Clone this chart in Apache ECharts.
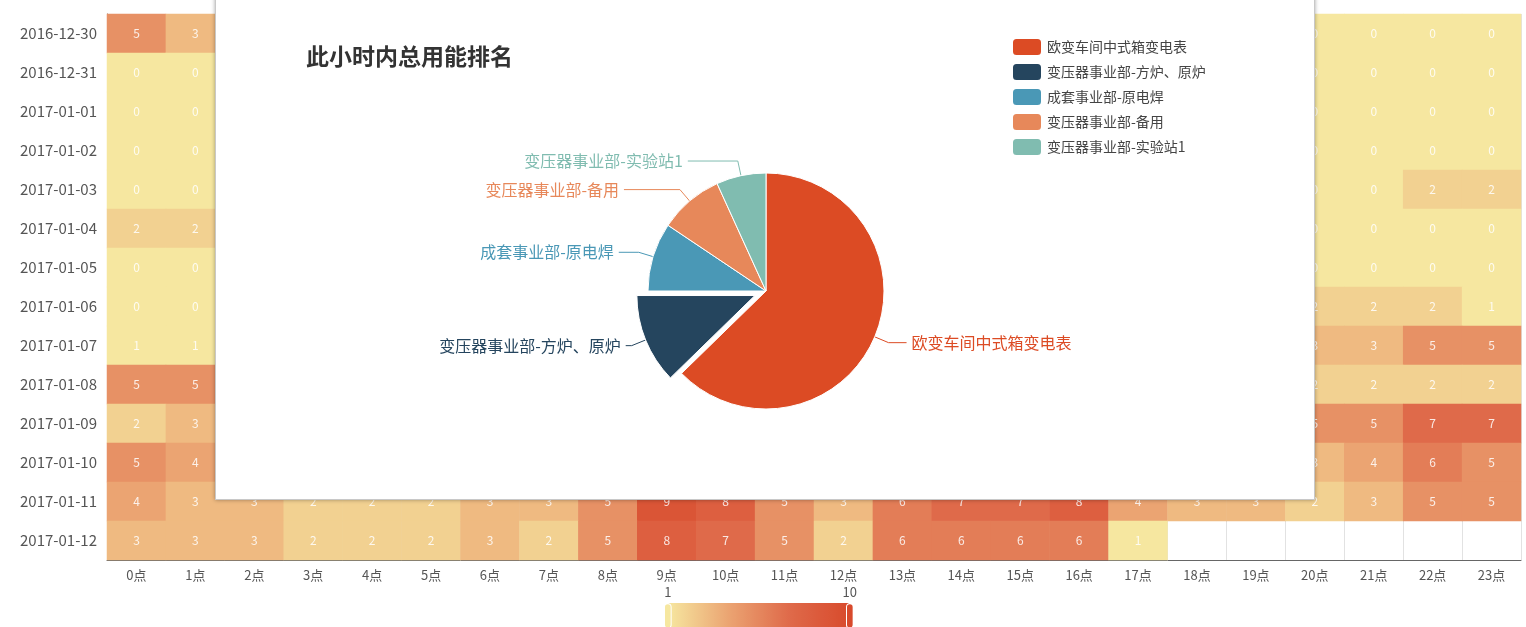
<!DOCTYPE html>
<html>
<head>
<meta charset="utf-8">
<title>用能热力图</title>
<script src="https://cdn.jsdelivr.net/npm/echarts@6/dist/echarts.min.js"></script>
<style>
	html, body { margin: 0; padding: 0; background: #fff; overflow: hidden; }
	#heat { position: absolute; left: 0; top: 0; width: 1526px; height: 627px; }
	#popup {
		position: absolute; left: 215px; top: -20px; width: 1098px; height: 518px;
		background: #fff; border: 1px solid #c8c8c8;
		box-shadow: 0 0 4px rgba(0, 0, 0, 0.35);
	}
	#pie { width: 100%; height: 100%; }
</style>
</head>
<body>
<div id="heat"></div>
<div id="popup"><div id="pie"></div></div>
<script>
var hours = ['0点', '1点', '2点', '3点', '4点', '5点', '6点', '7点', '8点', '9点', '10点', '11点',
	'12点', '13点', '14点', '15点', '16点', '17点', '18点', '19点', '20点', '21点', '22点', '23点'];

var dates = ['2016-12-30', '2016-12-31', '2017-01-01', '2017-01-02', '2017-01-03', '2017-01-04', '2017-01-05',
	'2017-01-06', '2017-01-07', '2017-01-08', '2017-01-09', '2017-01-10', '2017-01-11', '2017-01-12'];

// one row per date, one value per hour ('-' = no data yet)
var row_1230 = [5, 3, 3, 3, 3, 3, 3, 3, 4, 5, 5, 5, 4, 4, 4, 4, 3, 2, 1, 0, 0, 0, 0, 0];
var row_1231 = [0, 0, 0, 0, 0, 0, 0, 0, 0, 0, 0, 0, 0, 0, 0, 0, 0, 0, 0, 0, 0, 0, 0, 0];
var row_0101 = [0, 0, 0, 0, 0, 0, 0, 0, 0, 0, 0, 0, 0, 0, 0, 0, 0, 0, 0, 0, 0, 0, 0, 0];
var row_0102 = [0, 0, 0, 0, 0, 0, 0, 0, 0, 0, 0, 0, 0, 0, 0, 0, 0, 0, 0, 0, 0, 0, 0, 0];
var row_0103 = [0, 0, 0, 0, 0, 0, 0, 0, 0, 0, 0, 0, 0, 0, 0, 0, 0, 0, 0, 0, 0, 0, 2, 2];
var row_0104 = [2, 2, 2, 2, 2, 2, 2, 1, 1, 1, 1, 0, 0, 0, 0, 0, 0, 0, 0, 0, 0, 0, 0, 0];
var row_0105 = [0, 0, 0, 0, 0, 0, 0, 0, 0, 0, 0, 0, 0, 0, 0, 0, 0, 0, 0, 0, 0, 0, 0, 0];
var row_0106 = [0, 0, 0, 0, 0, 0, 0, 1, 2, 2, 2, 2, 2, 2, 2, 2, 2, 2, 2, 2, 2, 2, 2, 1];
var row_0107 = [1, 1, 1, 1, 1, 1, 2, 2, 3, 4, 4, 4, 3, 4, 4, 4, 4, 3, 3, 3, 3, 3, 5, 5];
var row_0108 = [5, 5, 4, 4, 4, 4, 4, 5, 6, 6, 6, 5, 4, 5, 5, 5, 5, 4, 3, 2, 2, 2, 2, 2];
var row_0109 = [2, 3, 3, 3, 3, 3, 3, 4, 5, 7, 7, 6, 5, 6, 6, 6, 6, 5, 5, 5, 5, 5, 7, 7];
var row_0110 = [5, 4, 4, 4, 4, 4, 4, 4, 5, 7, 7, 6, 5, 6, 6, 6, 6, 5, 4, 3, 3, 4, 6, 5];
var row_0111 = [4, 3, 3, 2, 2, 2, 3, 3, 5, 9, 8, 5, 3, 6, 7, 7, 8, 4, 3, 3, 2, 3, 5, 5];
var row_0112 = [3, 3, 3, 2, 2, 2, 3, 2, 5, 8, 7, 5, 2, 6, 6, 6, 6, 1, '-', '-', '-', '-', '-', '-'];

var rows = [row_1230, row_1231, row_0101, row_0102, row_0103, row_0104, row_0105,
	row_0106, row_0107, row_0108, row_0109, row_0110, row_0111, row_0112];

var visualMin = 1;
var visualMax = 10;

// 此小时内总用能排名
var pieTitle = '此小时内总用能排名';
var pieNames = ['欧变车间中式箱变电表', '变压器事业部-方炉、原炉', '成套事业部-原电焊', '变压器事业部-备用', '变压器事业部-实验站1'];
var pieValues = [627, 123, 94, 88, 68];
var pieSelected = '变压器事业部-方炉、原炉';

// styles for the pie, same order as pieNames
var pieColors = ['#dc4b24', '#25455e', '#4a98b6', '#e7885a', '#80bcb0'];
var pieLineLen2 = [18, 6, 20, 56, 50];
var font = '"Noto Sans CJK SC", "Noto Sans", sans-serif';

var heatData = [];
for (var i = 0; i < rows.length; i++) {
	for (var j = 0; j < hours.length; j++) {
		heatData.push([j, i, rows[i][j]]);
	}
}

var heatChart = echarts.init(document.getElementById('heat'));
heatChart.setOption({
	animation: false,
	textStyle: { fontFamily: font },
	grid: { left: 107, right: 5, top: 14, bottom: 67 },
	xAxis: {
		type: 'category',
		data: hours,
		axisLine: { lineStyle: { color: '#666' } },
		axisTick: { lineStyle: { color: '#666' } },
		axisLabel: { color: '#555', fontSize: 13, margin: 9 },
		splitLine: { show: true, lineStyle: { color: '#e2e2e2' } }
	},
	yAxis: {
		type: 'category',
		data: dates,
		inverse: true,
		axisLine: { lineStyle: { color: '#666' } },
		axisTick: { lineStyle: { color: '#666' } },
		axisLabel: { color: '#555', fontSize: 15, margin: 10 },
		splitLine: { show: false }
	},
	visualMap: {
		type: 'continuous',
		min: visualMin,
		max: visualMax,
		calculable: true,
		orient: 'horizontal',
		left: 649,
		top: 571,
		itemWidth: 26,
		itemHeight: 182,
		handleSize: '90%',
		textStyle: { color: '#555', fontSize: 13 },
		inRange: { color: ['#f6e7a0', '#eba472', '#df6a4a', '#d84a2c'] }
	},
	series: [{
		type: 'heatmap',
		data: heatData,
		label: {
			show: true,
			color: 'rgba(255,255,255,0.85)',
			fontSize: 12
		},
		itemStyle: { borderWidth: 0 }
	}]
});

var pieData = [];
for (var k = 0; k < pieNames.length; k++) {
	pieData.push({
		name: pieNames[k],
		value: pieValues[k],
		selected: pieNames[k] == pieSelected,
		itemStyle: { color: pieColors[k] },
		label: { color: pieColors[k] },
		labelLine: { length2: pieLineLen2[k] }
	});
}

var pieChart = echarts.init(document.getElementById('pie'));
pieChart.setOption({
	animation: false,
	textStyle: { fontFamily: font },
	color: pieColors,
	title: {
		text: pieTitle,
		left: 85,
		top: 59,
		textStyle: { fontSize: 23, fontWeight: 'bold', color: '#333' }
	},
	legend: {
		orient: 'vertical',
		left: 790,
		top: 51,
		icon: 'roundRect',
		itemWidth: 30,
		itemHeight: 18,
		itemGap: 5,
		textStyle: { fontSize: 14, color: '#444' },
		data: pieNames
	},
	series: [{
		type: 'pie',
		center: [550, 310],
		radius: 118,
		selectedMode: 'single',
		selectedOffset: 12,
		data: pieData,
		label: { fontSize: 16 },
		labelLine: { length: 15, length2: 18 },
		itemStyle: { borderColor: '#fff', borderWidth: 1 }
	}]
});
</script>
</body>
</html>
